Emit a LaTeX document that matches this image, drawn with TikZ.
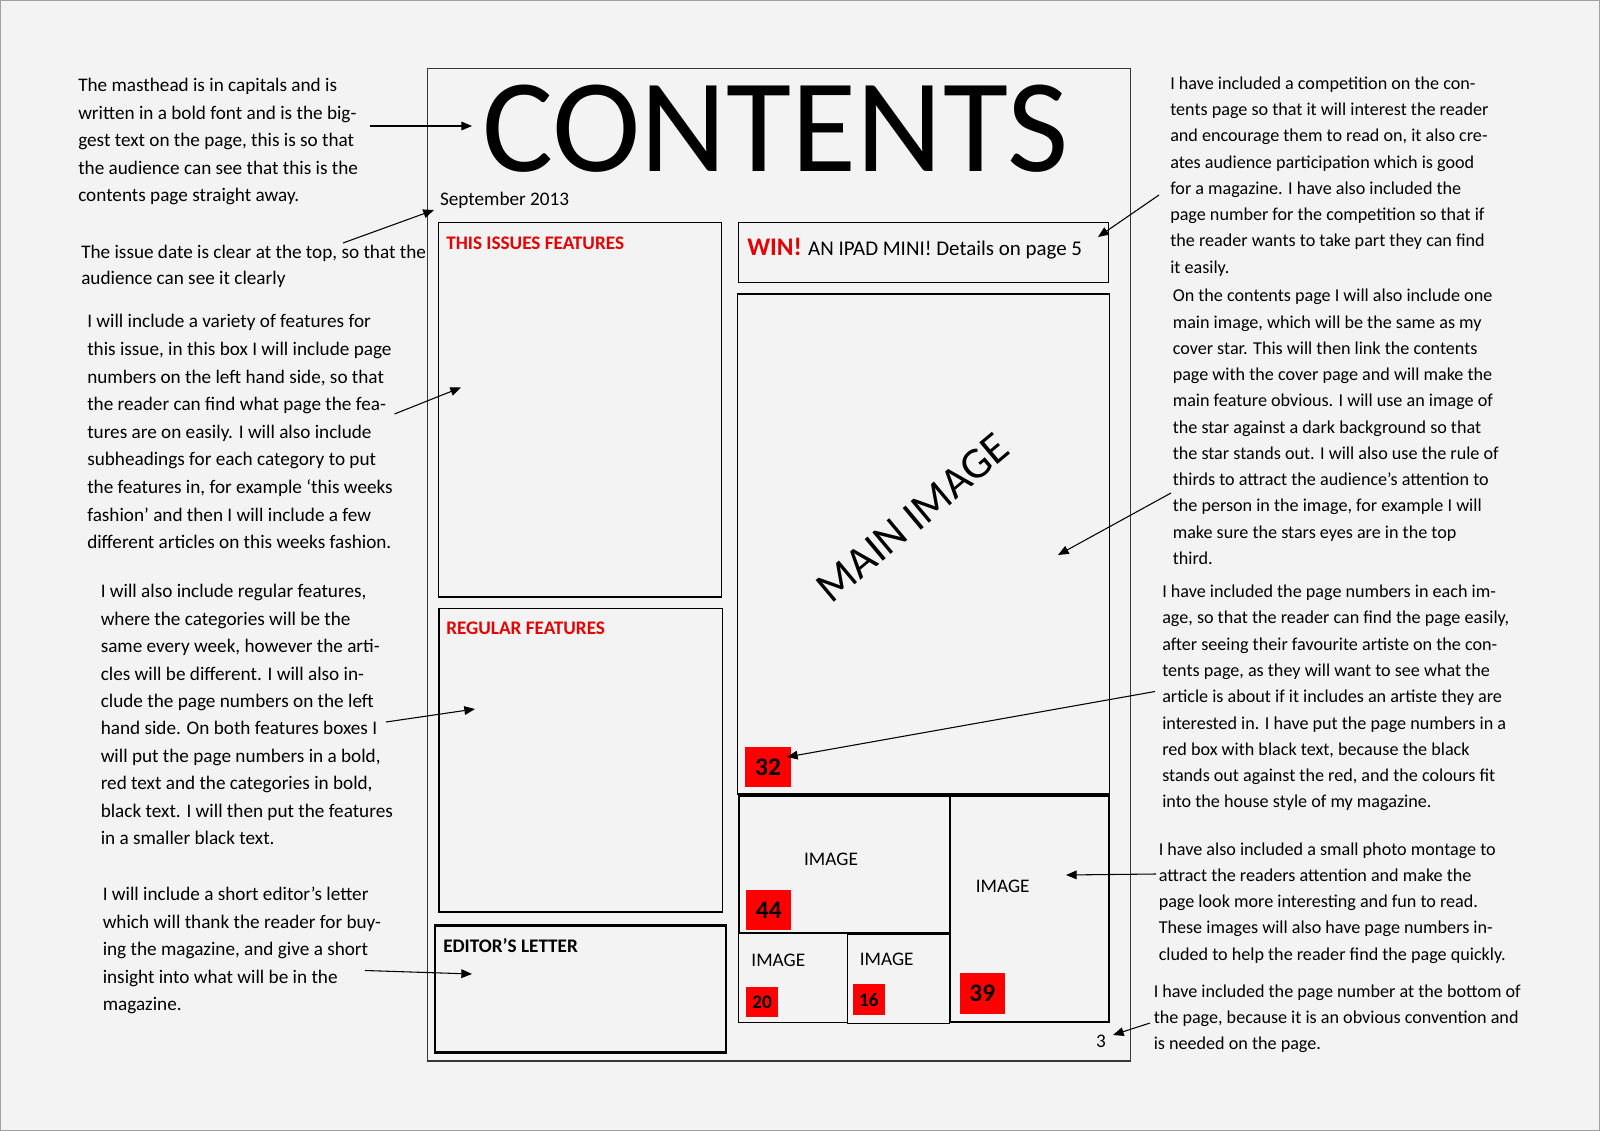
\documentclass[tikz,border=0pt]{standalone}
\usepackage{fontspec}
\setmainfont{Carlito}
\usetikzlibrary{arrows.meta,positioning}
\definecolor{paper}{RGB}{243,243,243}
\definecolor{edgegrey}{RGB}{160,160,160}
\definecolor{framegrey}{RGB}{55,55,55}
\definecolor{headred}{RGB}{228,0,0}
\definecolor{boxred}{RGB}{255,0,0}
\newcommand{\fsz}[2]{\fontsize{#1}{#2}\selectfont}

\begin{document}
\begin{tikzpicture}[
    x=0.75pt, y=-0.75pt, >={Triangle[length=8pt,width=6.5pt]},
    noteL/.style={anchor=base west, align=left, inner sep=0pt, font=\fsz{14.4}{20.6}},
    noteR/.style={anchor=base west, align=left, inner sep=0pt, font=\fsz{13.6}{19.7}},
    head/.style={anchor=base west, inner sep=0pt, font=\fsz{14.4}{17}\bfseries},
    lbl/.style={inner sep=0pt, font=\fsz{14.4}{17}},
    box/.style={draw=black, line width=1pt},
    pgnum/.style={fill=boxred, inner sep=0pt, text=black, font=\fsz{19}{22}\bfseries,
                  minimum width=34pt, minimum height=30.5pt},
    pgsmall/.style={pgnum, font=\fsz{14.4}{17}\bfseries, minimum width=24pt, minimum height=23pt},
    arr/.style={->, line width=0.8pt, black}
]
\useasboundingbox (0,0) rectangle (1600,1131);
\fill[paper] (0,0) rectangle (1600,1131);
\draw[edgegrey, line width=1pt] (0.7,0.7) rectangle (1599.3,1130.3);

\draw[framegrey, line width=1.2pt] (427.6,68.4) rectangle (1130.6,1061.2);
\draw[box] (438.8,222.4) rectangle (721.6,597);
\draw[box] (439,608.3) rectangle (722.5,912);
\draw[box, line width=2pt] (435,925.7) rectangle (726,1052.7);
\draw[box] (738.8,222.4) rectangle (1108.2,282.6);
\draw[box] (737.5,294) rectangle (1109.3,794);
\draw[box] (950,796) rectangle (1109,1022);
\draw[box] (738.3,933.3) rectangle (847.7,1022.7);
\draw[box] (847.7,934) rectangle (949.3,1023.7);
\draw[box, line width=1.6pt] (739.3,796) rectangle (950,933.3);

\node[inner sep=0pt, anchor=base, font=\fsz{100}{110}] (mast) at (775.5,171.4) {CONTENTS};
\node[lbl, anchor=base west] (date) at (439.8,205) {September 2013};
\node[head, text=headred] (feat) at (446,249) {THIS ISSUES FEATURES};
\node[head, text=headred] (reg) at (446,634.7) {REGULAR FEATURES};
\node[head] (ed) at (443,952) {EDITOR’S LETTER};
\node[head, text=headred, font=\fsz{19}{22}\bfseries] (win) at (747,255) {WIN!};
\node[lbl, anchor=base west, font=\fsz{15.7}{18}] (ipad) at ([xshift=4.3pt]win.base east) {AN IPAD MINI! Details on page 5};
\node[lbl, rotate=40, font=\fsz{33}{36}] (mainimg) at (913,518) {MAIN IMAGE};
\node[lbl] (im44) at (831,859) {IMAGE};
\node[lbl] (im39) at (1002.7,886) {IMAGE};
\node[lbl] (im20) at (778.3,960) {IMAGE};
\node[lbl] (im16) at (886.7,959.3) {IMAGE};
\node[pgnum] (n32) at (768,767) {32};
\node[pgnum] (n44) at (768.8,910) {44};
\node[pgnum] (n39) at (982.3,993.7) {39};
\node[pgsmall] (n20) at (762,1002) {20};
\node[pgsmall] (n16) at (868.8,999.7) {16};
\node[lbl, anchor=base] (folio) at (1101,1047) {3};

\node[noteL] (mastnote) at (78,201.8) {The masthead is in capitals and is\\written in a bold font and is the big-\\gest text on the page, this is so that\\the audience can see that this is the\\contents page straight away.};
\node[noteL, font=\fsz{14.4}{20}] (datenote) at (81,284.8) {The issue date is clear at the top, so that the\\audience can see it clearly};
\node[noteL, font=\fsz{14.4}{20.7}] (featnote) at (87,548.6) {I will include a variety of features for\\this issue, in this box I will include page\\numbers on the left hand side, so that\\the reader can find what page the fea-\\tures are on easily. I will also include\\subheadings for each category to put\\the features in, for example ‘this weeks\\fashion’ and then I will include a few\\different articles on this weeks fashion.};
\node[noteL] (regnote) at (100.5,844.8) {I will also include regular features,\\where the categories will be the\\same every week, however the arti-\\cles will be different. I will also in-\\clude the page numbers on the left\\hand side. On both features boxes I\\will put the page numbers in a bold,\\red text and the categories in bold,\\black text. I will then put the features\\in a smaller black text.};
\node[noteL, font=\fsz{14.4}{20.7}] (ednote) at (102.5,1010.8) {I will include a short editor’s letter\\which will thank the reader for buy-\\ing the magazine, and give a short\\insight into what will be in the\\magazine.};
\node[noteR] (winnote) at (1170,273.1) {I have included a competition on the con-\\tents page so that it will interest the reader\\and encourage them to read on, it also cre-\\ates audience participation which is good\\for a magazine. I have also included the\\page number for the competition so that if\\the reader wants to take part they can find\\it easily.};
\node[noteR] (mainnote) at (1172.5,564.5) {On the contents page I will also include one\\main image, which will be the same as my\\cover star. This will then link the contents\\page with the cover page and will make the\\main feature obvious. I will  use an image of\\the star against a dark background so that\\the star stands out. I will also use the rule of\\thirds to attract the audience’s attention to\\the person in the image, for example I will\\make sure the stars eyes are in the top\\third.};
\node[noteR] (numnote) at (1162,807.8) {I have included the page numbers in each im-\\age, so that the reader can find the page easily,\\after seeing their favourite artiste on the con-\\tents page, as they will want to see what the\\article is about if it includes an artiste they are\\interested in. I have put the page numbers in a\\red box with black text, because the black\\stands out against the red, and the colours fit\\into the house style of my magazine.};
\node[noteR] (montnote) at (1158.5,960.2) {I have also included a small photo montage to\\attract the readers attention and make the\\page look more interesting and fun to read.\\These images will also have page numbers in-\\cluded to help the reader find the page quickly.};
\node[noteR] (folionote) at (1153.5,1049.8) {I have included the page number at the bottom of\\the page, because it is an obvious convention and\\is needed on the page.};

\coordinate (aMast) at (370,126);   \coordinate (tMast) at (472,126);
\coordinate (aDate) at (343,243);   \coordinate (tDate) at (434,210);
\coordinate (aFeat) at (394.5,414); \coordinate (tFeat) at (461,387.5);
\coordinate (aReg) at (386,722);    \coordinate (tReg) at (475,709);
\coordinate (aEd) at (365,970.5);   \coordinate (tEd) at (472,974);
\coordinate (aWin) at (1159,195);   \coordinate (tWin) at (1098,237);
\coordinate (aMain) at (1171,493);  \coordinate (tMain) at (1058,555);
\coordinate (aNum) at (1155,691.5); \coordinate (tNum) at (787,757);
\coordinate (aMont) at (1156,874);  \coordinate (tMont) at (1066,875);
\coordinate (aFolio) at (1150,1023); \coordinate (tFolio) at (1113,1035);

\draw[arr] (aMast) -- (tMast);  \draw[arr] (aDate) -- (tDate);  \draw[arr] (aFeat) -- (tFeat);
\draw[arr] (aReg) -- (tReg);    \draw[arr] (aEd) -- (tEd);      \draw[arr] (aWin) -- (tWin);
\draw[arr] (aMain) -- (tMain);  \draw[arr] (aNum) -- (tNum);    \draw[arr] (aMont) -- (tMont);
\draw[arr] (aFolio) -- (tFolio);
\end{tikzpicture}
\end{document}
